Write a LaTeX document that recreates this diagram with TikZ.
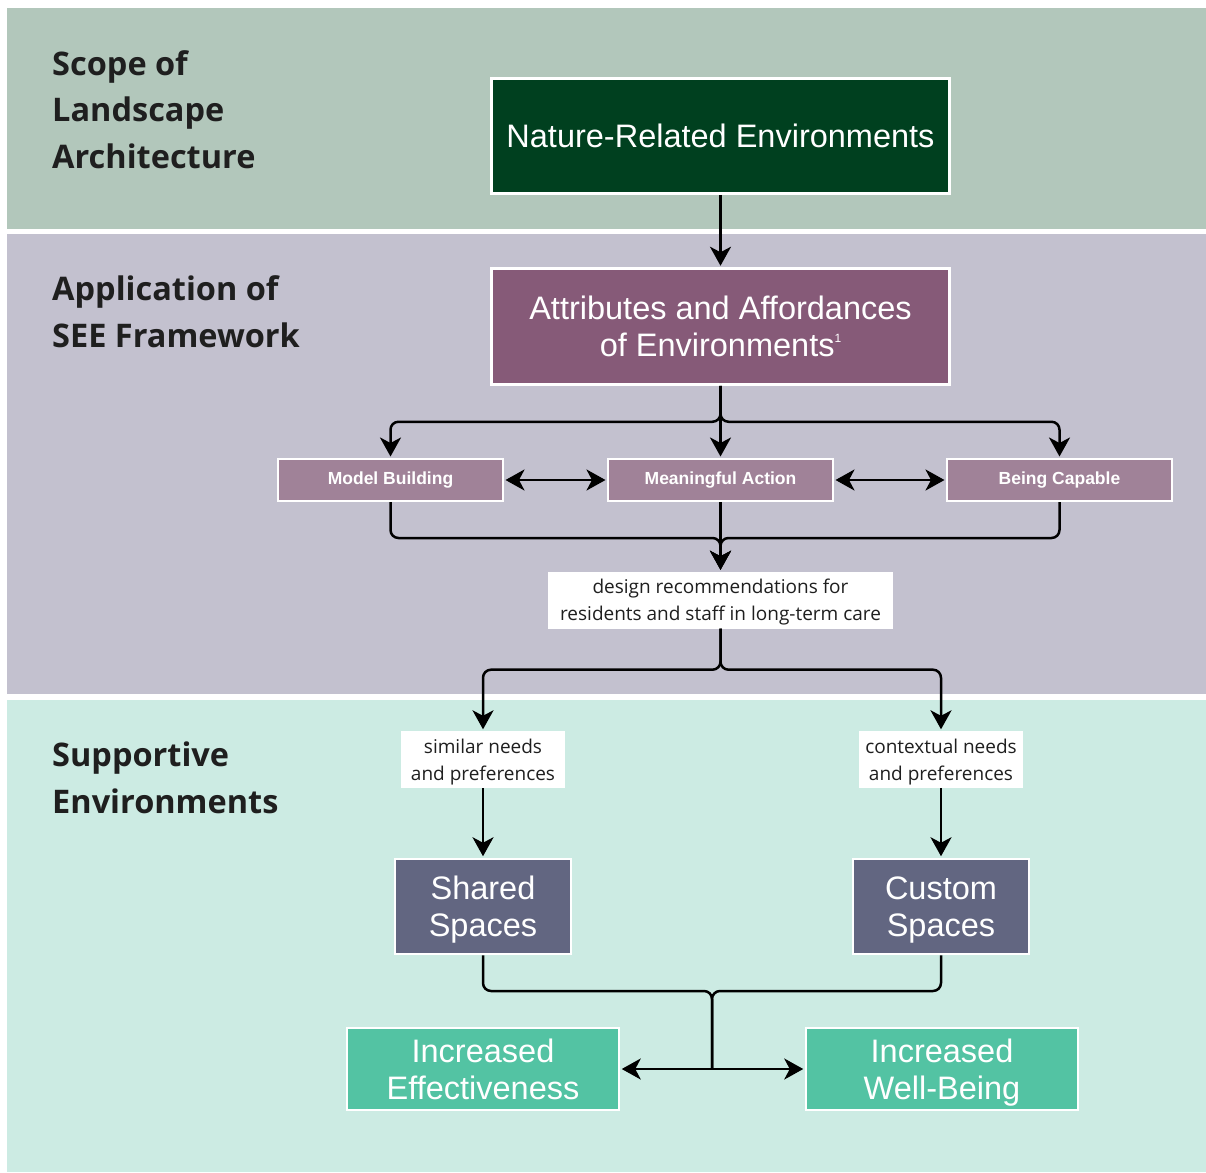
\documentclass[tikz,border=0pt]{standalone}
\usepackage{fontspec}
\setmainfont{Open Sans}
\newfontfamily\boxfont{Liberation Sans}
\usetikzlibrary{arrows.meta}

\definecolor{scopebg}{HTML}{B2C7BB}
\definecolor{seebg}{HTML}{C3C1CF}
\definecolor{suppbg}{HTML}{CCEBE3}
\definecolor{naturefill}{HTML}{00401F}
\definecolor{attrfill}{HTML}{865A78}
\definecolor{keyfill}{HTML}{A08298}
\definecolor{spacefill}{HTML}{626681}
\definecolor{outfill}{HTML}{53C3A3}

% struts for the first and last line of the boxes
\newcommand{\bigtop}{\rule{0pt}{34pt}}
\newcommand{\bigbot}{\rule[-11pt]{0pt}{11pt}}
\newcommand{\notetop}{\rule{0pt}{22pt}}
\newcommand{\notebot}{\rule[-8pt]{0pt}{8pt}}

\tikzset{
  heading/.style={anchor=base west, inner sep=0pt, align=left, text=black!88,
    font=\bfseries\fontsize{32.5}{46.5}\selectfont},
  bigbox/.style={draw=white, line width=2.5pt, text=white, align=center, inner sep=0pt,
    font=\boxfont\fontsize{32.5}{37}\selectfont},
  keybox/.style={draw=white, line width=2pt, fill=keyfill, text=white, inner sep=0pt,
    minimum width=225pt, minimum height=42pt, font=\boxfont\bfseries\fontsize{17.5}{20}\selectfont},
  note/.style={fill=white, inner sep=0pt, align=center, text=black!88,
    font=\fontsize{19}{27}\selectfont},
  tip/.tip={Stealth[length=19pt,width=21pt,inset=5.5pt]},
  flow/.style={line width=2.5pt, rounded corners=8pt, -tip, shorten >=1.5pt},
  plain/.style={line width=2.5pt, rounded corners=8pt},
  both/.style={line width=2.5pt, tip-tip, shorten <=1.5pt, shorten >=1.5pt}
}

\begin{document}
\begin{tikzpicture}[x=1pt,y=-1pt]
\useasboundingbox (0,0) rectangle (1206,1172);
\fill[white] (0,0) rectangle (1206,1172);

% bands
\fill[scopebg] (7,8) rectangle (1206,229);
\fill[seebg] (7,234) rectangle (1206,694);
\fill[suppbg] (7,700) rectangle (1206,1172);

\path (52,168) node[heading] (hscope) {Scope of\\Landscape\\Architecture};
\path (52,347) node[heading] (hsee) {Application of\\SEE Framework};
\path (52,813) node[heading] (hsupp) {Supportive\\Environments};

% boxes
\path (720.5,136) node[bigbox, fill=naturefill, minimum width=458pt, minimum height=115pt] (nre) {Nature-Related Environments};
\path (720.5,326.5) node[bigbox, fill=attrfill, minimum width=458pt, minimum height=116pt] (attr)
  {\bigtop Attributes and Affordances\\of Environments\raisebox{14pt}{\fontsize{12}{12}\selectfont 1}\bigbot};

\path (390.5,480) node[keybox] (mb) {Model Building};
\path (720.5,480) node[keybox] (ma) {Meaningful Action};
\path (1059.5,480) node[keybox] (bc) {Being Capable};

\path (720.5,600) node[note, minimum width=345pt, minimum height=54pt] (rec)
  {\notetop design recommendations for\\residents and staff in long-term care\notebot};

\path (483,759.5) node[note, minimum width=164pt, minimum height=53pt] (sim) {\notetop similar needs\\and preferences\notebot};
\path (941,759.5) node[note, minimum width=164pt, minimum height=53pt] (ctx) {\notetop contextual needs\\and preferences\notebot};

\path (483,906.5) node[bigbox, fill=spacefill, minimum width=176pt, minimum height=95pt] (shared) {\bigtop Shared\\Spaces\bigbot};
\path (941,906.5) node[bigbox, fill=spacefill, minimum width=176pt, minimum height=95pt] (custom) {\bigtop Custom\\Spaces\bigbot};

\path (483,1069) node[bigbox, fill=outfill, minimum width=272pt, minimum height=82pt] (eff) {\bigtop Increased\\Effectiveness\bigbot};
\path (942,1069) node[bigbox, fill=outfill, minimum width=272pt, minimum height=82pt] (wb) {\bigtop Increased\\Well-Being\bigbot};

\coordinate (join1) at (720.5,538);
\coordinate (join2) at (712,991);
\coordinate (join3) at (712,1069);

% connectors
\draw[flow] (nre) -- (attr);
\draw[flow] (attr.south) -- ++(0,36) -| (mb.north);
\draw[flow] (attr.south) -- (ma.north);
\draw[flow] (attr.south) -- ++(0,36) -| (bc.north);

\draw[both] (mb.east) -- (ma.west);
\draw[both] (ma.east) -- (bc.west);

\draw[flow] (mb.south) |- (join1) -- (rec.north);
\draw[flow] (bc.south) |- (join1) -- (rec.north);
\draw[flow] (ma.south) -- (rec.north);

\draw[flow] (rec.south) -- ++(0,41) -| (sim.north);
\draw[flow] (rec.south) -- ++(0,41) -| (ctx.north);
\draw[flow] (sim) -- (shared);
\draw[flow] (ctx) -- (custom);

\draw[plain] (shared.south) |- (join2) -- (join3);
\draw[plain] (custom.south) |- (join2) -- (join3);
\draw[flow] (join3) -- (eff.east);
\draw[flow] (join3) -- (wb.west);
\end{tikzpicture}
\end{document}
